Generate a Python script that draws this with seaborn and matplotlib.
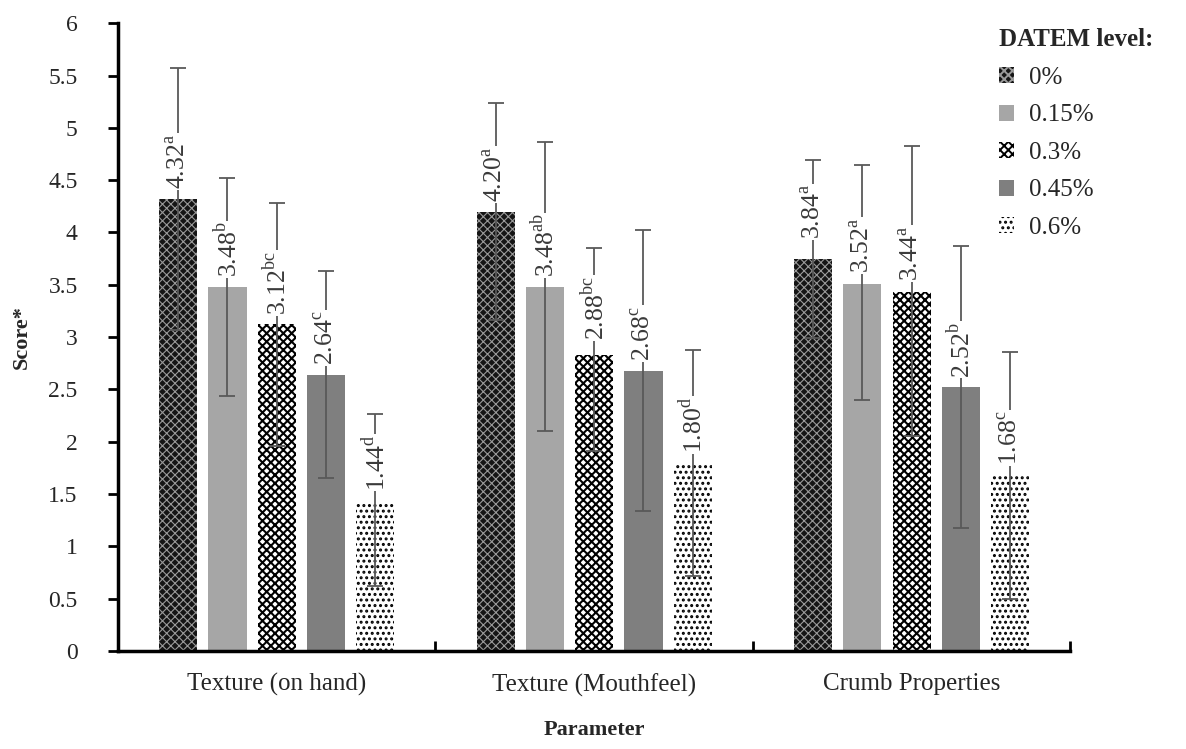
import numpy as np
import pandas as pd
import matplotlib as mpl
import matplotlib.pyplot as plt
import seaborn as sns

sns.set_theme(style='white')
plt.rcParams['font.family'] = ['Liberation Serif', 'DejaVu Serif']
plt.rcParams['mathtext.fontset'] = 'custom'
plt.rcParams['mathtext.rm'] = 'Liberation Serif'
plt.rcParams['hatch.linewidth'] = 1.4

# data
params = ['Texture (on hand)', 'Texture (Mouthfeel)', 'Crumb Properties']
levels = ['0%', '0.15%', '0.3%', '0.45%', '0.6%']

# drawn bar heights
h_0 = [4.32, 4.20, 3.75]
h_015 = [3.48, 3.48, 3.51]
h_03 = [3.12, 2.83, 3.43]
h_045 = [2.64, 2.68, 2.52]
h_06 = [1.41, 1.79, 1.68]

# means shown in labels (error bars are centred on these)
m_0 = [4.32, 4.20, 3.84]
m_015 = [3.48, 3.48, 3.52]
m_03 = [3.12, 2.88, 3.44]
m_045 = [2.64, 2.68, 2.52]
m_06 = [1.44, 1.80, 1.68]

# standard deviations
sd_0 = [1.25, 1.04, 0.85]
sd_015 = [1.04, 1.38, 1.12]
sd_03 = [1.16, 0.97, 1.39]
sd_045 = [0.99, 1.34, 1.35]
sd_06 = [0.82, 1.08, 1.18]

# significance letters
let_0 = ['a', 'a', 'a']
let_015 = ['b', 'ab', 'a']
let_03 = ['bc', 'bc', 'a']
let_045 = ['c', 'c', 'b']
let_06 = ['d', 'd', 'c']

heights = [h_0, h_015, h_03, h_045, h_06]
means = [m_0, m_015, m_03, m_045, m_06]
sds = [sd_0, sd_015, sd_03, sd_045, sd_06]
letters = [let_0, let_015, let_03, let_045, let_06]

rows = []
for lv, hs in zip(levels, heights):
    for p, h in zip(params, hs):
        rows.append({'Parameter': p, 'Level': lv, 'Score': h})
df = pd.DataFrame(rows)

# fill / hatch style per level
faces = ['#151515', '#a6a6a6', 'white', '#7f7f7f', 'white']
hatches = ['xxxx', None, 'xxxx', None, '...']
hatch_cols = ['#9a9a9a', None, 'black', None, 'black']
hatch_lw = [0.8, None, 1.5, None, 1.4]

fig = plt.figure(figsize=(11.86, 7.49), dpi=100)
ax = fig.add_axes([0.0995, 0.131, 0.803, 0.838])

sns.barplot(data=df, x='Parameter', y='Score', hue='Level', order=params,
            hue_order=levels, palette=['#808080'] * 5, width=0.776, gap=0.226,
            errorbar=None, legend=False, ax=ax)

bars = list(ax.containers)
for i, cont in enumerate(bars):
    for p in cont.patches:
        p.set_facecolor(faces[i])
        p.set_linewidth(0)
        if hatches[i]:
            p.set_hatch(hatches[i])
            p.set_edgecolor(hatch_cols[i])
            try:
                p.set_hatch_linewidth(hatch_lw[i])
            except AttributeError:
                pass
        else:
            p.set_edgecolor(faces[i])

    xs = [p.get_x() + p.get_width() / 2 for p in cont.patches]
    ax.errorbar(xs, means[i], yerr=sds[i], fmt='none', ecolor='#595959',
                elinewidth=1.3, capsize=6, capthick=1.3, zorder=3)
    for x, m, l in zip(xs, means[i], letters[i]):
        ax.annotate('%.2f$^{\\mathrm{%s}}$' % (m, l), (x, m), xytext=(0, 7),
                    textcoords='offset points', rotation=90, ha='center',
                    va='bottom', fontsize=18.5, color='#3a3a3a', zorder=4,
                    bbox=dict(facecolor='white', edgecolor='none', pad=0.5))

ax.set_ylim(0, 6)
ax.set_xlim(-0.5, 2.5)
ax.set_yticks(np.arange(0, 6.01, 0.5))
ax.set_yticklabels(['0', '0.5', '1', '1.5', '2', '2.5', '3', '3.5', '4', '4.5', '5', '5.5', '6'])
ax.tick_params(axis='y', which='major', left=True, direction='out', length=7,
               width=2, labelsize=17, color='black', pad=22)
ax.tick_params(axis='x', which='major', bottom=False, labelsize=18, pad=10)
ax.set_xticks([-0.5, 0.5, 1.5, 2.5], minor=True)
ax.tick_params(axis='x', which='minor', bottom=True, direction='in', length=7,
               width=2, color='black')

for s in ['top', 'right']:
    ax.spines[s].set_visible(False)
for s in ['left', 'bottom']:
    ax.spines[s].set_color('black')
    ax.spines[s].set_linewidth(2.5)

ax.set_ylabel('Score*', fontsize=16, fontweight='bold', labelpad=12)
ax.set_xlabel('Parameter', fontsize=16, fontweight='bold', labelpad=17)

leg = ax.legend(bars, levels, title='DATEM level:', loc='upper left',
                bbox_to_anchor=(0.842, 0.962), bbox_transform=fig.transFigure,
                frameon=False, fontsize=18, handlelength=0.6, handleheight=0.6,
                labelspacing=0.62, handletextpad=0.6, alignment='left',
                borderaxespad=0, borderpad=0)
leg.get_title().set_fontweight('bold')
leg.get_title().set_fontsize(18)

fig.savefig('out.png', dpi=100, facecolor='white')
